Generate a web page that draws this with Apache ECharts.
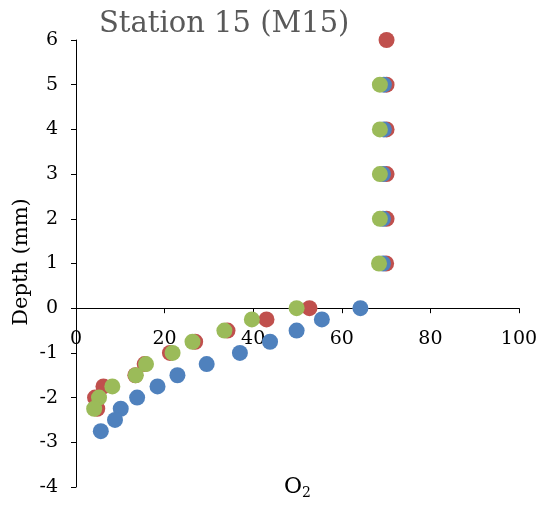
<!DOCTYPE html>
<html><head><meta charset="utf-8">
<script src="https://cdn.jsdelivr.net/npm/echarts@6/dist/echarts.min.js"></script>
<style>html,body{margin:0;padding:0;background:#fff}#c{width:544px;height:507px}</style>
</head><body><div id="c"></div>
<script>
const depthRed   = [6, 5, 4, 3, 2, 1, 0, -0.25, -0.5, -0.75, -1, -1.25, -1.5, -1.75, -2, -2.25];
const o2Red      = [70.1, 70.1, 70.1, 70.1, 70.1, 70.0, 52.7, 43.0, 34.2, 26.9, 21.2, 15.5, 13.4, 6.2, 4.3, 4.8];
const depthBlue  = [5, 4, 3, 2, 1, 0, -0.25, -0.5, -0.75, -1, -1.25, -1.5, -1.75, -2, -2.25, -2.5, -2.75];
const o2Blue     = [69.5, 69.5, 69.3, 69.3, 69.3, 64.2, 55.5, 49.8, 43.8, 37.0, 29.5, 22.9, 18.4, 13.8, 10.1, 8.8, 5.6];
const depthGreen = [5, 4, 3, 2, 1, 0, -0.25, -0.5, -0.75, -1, -1.25, -1.5, -1.75, -2, -2.25];
const o2Green    = [68.6, 68.6, 68.6, 68.6, 68.4, 49.8, 39.7, 33.5, 26.3, 21.8, 15.8, 13.5, 8.2, 5.2, 4.1];
const titleText = 'Station 15 (M15)';
const yName = 'Depth (mm)';
const yMin = -4, yMax = 6;

const pair = (xs, ys) => xs.map((x, i) => [x, ys[i]]);
const font = 'DejaVu Serif';
const gridTop = 40, gridBottom = 20, H = 507;
const gridH = H - gridTop - gridBottom;
const zeroOffset = -gridH * (0 - yMin) / (yMax - yMin);
const chart = echarts.init(document.getElementById('c'));
chart.setOption({
  animation: false,
  title: { text: titleText, left: 94, top: 5,
    textStyle: { fontFamily: font, fontSize: 29, fontWeight: 'normal', color: '#595959' } },
  grid: { left: 76, right: 25, top: gridTop, bottom: gridBottom, outerBoundsMode: 'none', containLabel: false },
  xAxis: { type: 'value', min: 0, max: 100, interval: 20, offset: zeroOffset,
    axisLine: { onZero: false, lineStyle: { color: '#000', width: 1 } },
    axisTick: { show: true, length: 5, lineStyle: { color: '#000' } },
    axisLabel: { margin: 21, fontFamily: font, fontSize: 19, color: '#000' },
    splitLine: { show: false } },
  yAxis: { type: 'value', min: yMin, max: yMax, interval: 1,
    axisLine: { show: true, onZero: false, lineStyle: { color: '#000', width: 1 } },
    axisTick: { show: true, length: 5, lineStyle: { color: '#000' } },
    axisLabel: { margin: 18, fontFamily: font, fontSize: 19, color: '#000' },
    splitLine: { show: false } },
  graphic: [
    { type: 'text', x: 22, y: 262, rotation: Math.PI / 2,
      style: { text: yName, fontFamily: font, fontSize: 21, fill: '#000', align: 'center', verticalAlign: 'middle' } },
    { type: 'text', x: 284, y: 474,
      style: { text: 'O{s|2}', fontFamily: font, fontSize: 22, fill: '#000',
        rich: { s: { fontFamily: font, fontSize: 14, fill: '#000', padding: [12, 0, 0, 0] } } } }
  ],
  series: [
    { type: 'scatter', data: pair(o2Red, depthRed), symbolSize: 16, itemStyle: { color: '#C0504D', opacity: 1 } },
    { type: 'scatter', data: pair(o2Blue, depthBlue), symbolSize: 16, itemStyle: { color: '#4F81BD', opacity: 1 } },
    { type: 'scatter', data: pair(o2Green, depthGreen), symbolSize: 16, itemStyle: { color: '#9BBB59', opacity: 1 } }
  ]
});
</script></body></html>
